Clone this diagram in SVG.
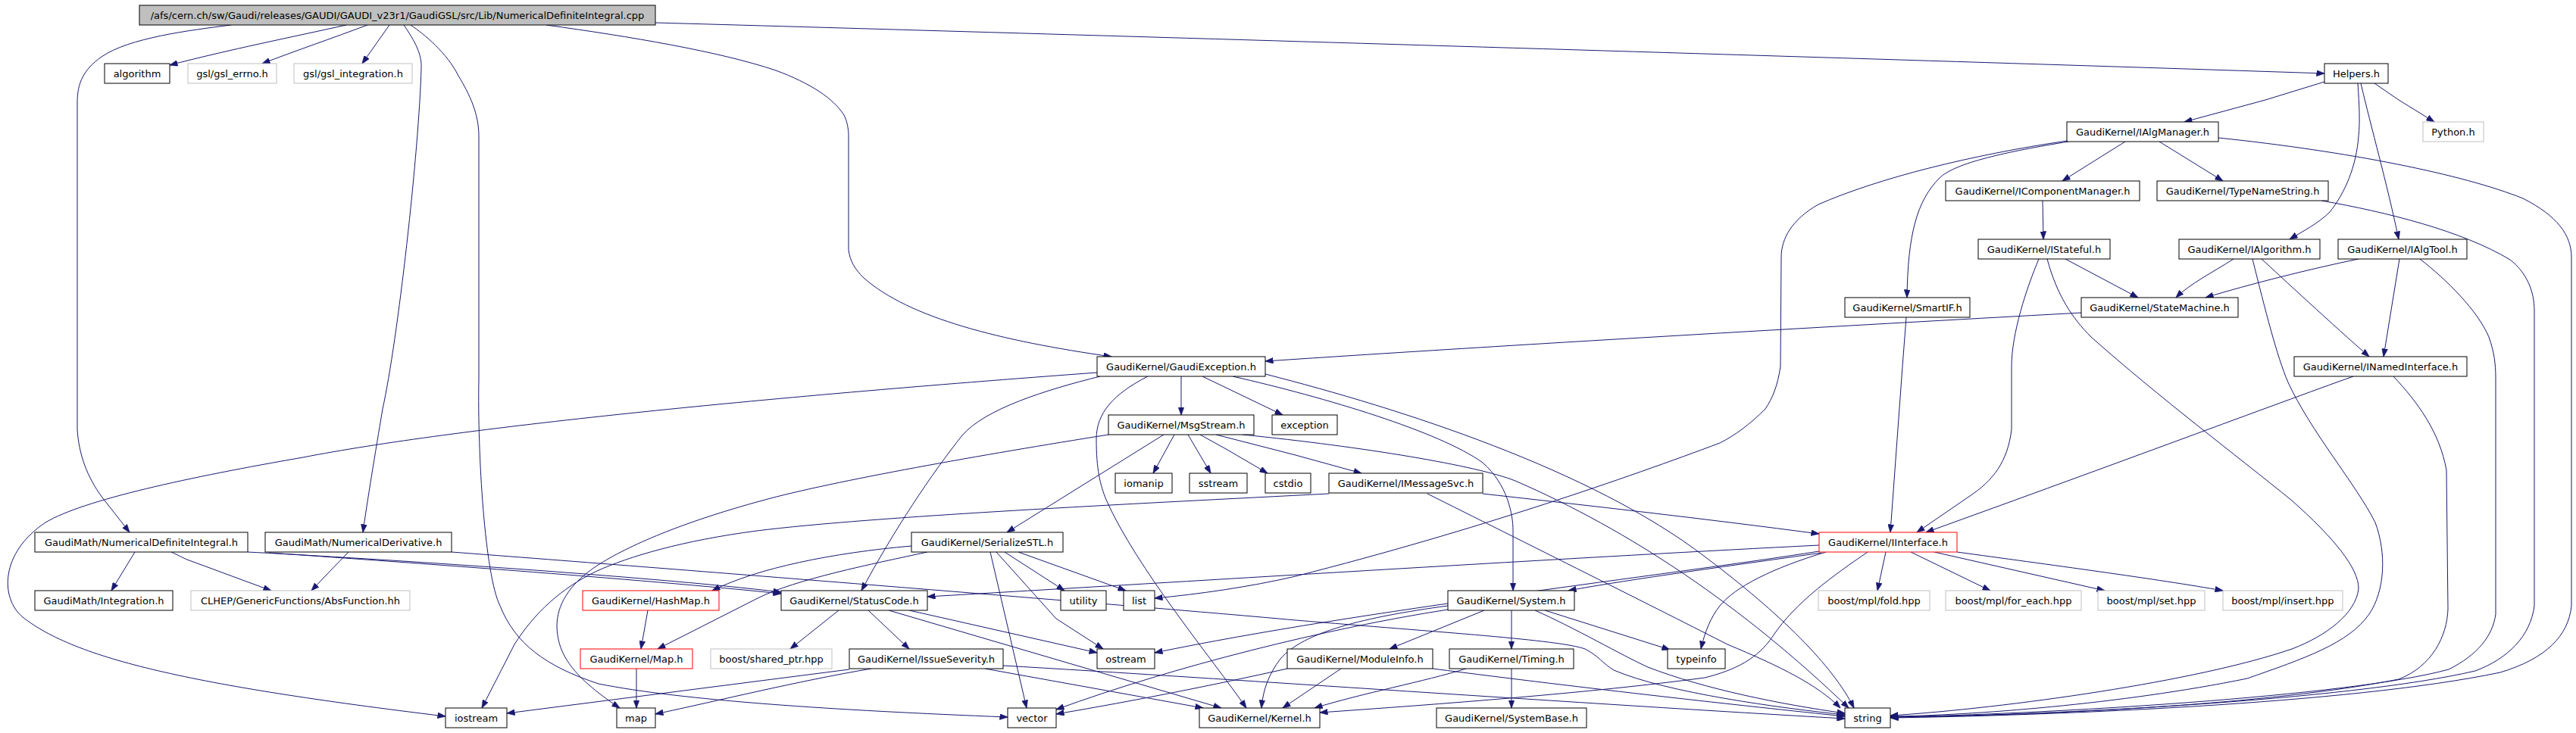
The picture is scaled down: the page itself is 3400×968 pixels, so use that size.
<svg xmlns="http://www.w3.org/2000/svg" width="3400" height="968" viewBox="0 0 3400 968">
<defs>
<style>
.node rect{fill:#ffffff;stroke:#000000;stroke-width:1}
.node.grey rect{stroke:#bfbfbf}
.node.red rect{stroke:#ff0000}
.node.root rect{fill:#bfbfbf}
.node text{font-family:"DejaVu Sans",sans-serif;font-size:13px;text-anchor:middle;fill:#000000}
.edges path{fill:none;stroke:#191970;stroke-width:1;marker-end:url(#arr)}
</style>
<marker id="arr" markerUnits="userSpaceOnUse" markerWidth="11" markerHeight="8" viewBox="0 0 11 8" refX="10.5" refY="4" orient="auto"><path d="M0,0 L11,4 L0,8 z" fill="#191970" stroke="#191970" stroke-width="0.5"/></marker>
</defs>
<rect x="0" y="0" width="3400" height="968" fill="#ffffff"/>
<g class="edges">
<path d="M457,33 C390,48 300,66 224,86"/>
<path d="M485,33 C440,50 390,67 346,84"/>
<path d="M514,33 C502,50 490,67 478,84"/>
<path d="M305,33 C250,40 170,50 134,75 C110,92 102,110 102,135 L102,567 C104,600 115,630 135,657 L171,703"/>
<path d="M533,33 C548,55 557,72 556,90 C553,200 525,450 505,540 C495,600 485,660 479,703"/>
<path d="M542,33 C560,45 590,70 605,100 C620,125 632,150 632,180 L632,500 C630,600 640,760 660,800 C680,850 720,880 790,903 C900,925 1100,938 1330,947"/>
<path d="M721,33 C830,48 950,68 1024,93 C1070,110 1100,130 1114,152 C1118,160 1120,170 1120,180 L1120,330 C1122,345 1128,355 1140,367 C1200,420 1320,450 1467,471"/>
<path d="M865,30 C1300,42 2500,78 3068,97"/>
<path d="M178,729 L147,780"/>
<path d="M226,729 C235,733 240,736 247,739 L358,780"/>
<path d="M460,729 L429,761 L411,780"/>
<path d="M327,729 C450,735 850,760 1031,782"/>
<path d="M355,730 C500,740 850,765 1031,784"/>
<path d="M596,729 C900,752 1500,800 1710,819 C1900,835 2060,845 2092,857 C2110,866 2115,876 2130,885 C2200,915 2350,935 2435,944"/>
<path d="M1559,497 L1559,548"/>
<path d="M1587,497 L1693,548"/>
<path d="M1448,492 C1000,525 600,565 400,604 C250,630 110,660 60,690 C0,730 0,790 30,815 C100,870 250,905 588,946"/>
<path d="M1452,497 C1380,515 1300,540 1270,575 C1230,625 1180,700 1137,780"/>
<path d="M1515,497 C1470,520 1447,545 1447,580 C1447,620 1452,640 1460,660 C1500,750 1600,870 1645,935"/>
<path d="M1670,494 C1850,540 2100,620 2250,735 C2350,810 2420,880 2447,935"/>
<path d="M1627,497 C1750,525 1900,570 1957,611 C1990,640 1997,680 1997,700 L1997,780"/>
<path d="M1536,574 L1329,703"/>
<path d="M1550,574 L1522,625"/>
<path d="M1568,574 L1598,625"/>
<path d="M1584,574 L1620,594 L1673,625"/>
<path d="M1605,574 L1710,601 L1797,625"/>
<path d="M1640,574 C1800,590 1950,615 2000,635 C2150,700 2300,800 2440,935"/>
<path d="M1463,574 C1300,600 1100,635 1006,661 C900,690 830,720 788,747 C750,772 735,800 735,827 C736,860 750,890 818,935"/>
<path d="M1754,652 C1500,665 1150,682 999,701 C900,714 830,735 788,754 C740,777 705,810 679,851 L636,935"/>
<path d="M1957,652 C2100,668 2250,685 2401,705"/>
<path d="M1884,652 C2000,710 2200,810 2280,851 C2350,880 2400,905 2429,935"/>
<path d="M1203,721 C1100,730 1000,750 940,780"/>
<path d="M1224,729 C1150,745 1050,765 1000,790 L868,857"/>
<path d="M1307,729 L1355,935"/>
<path d="M1315,729 L1394,817 L1456,857"/>
<path d="M1326,729 L1405,780"/>
<path d="M1344,729 L1486,780"/>
<path d="M855,806 L846,857"/>
<path d="M840,883 L840,935"/>
<path d="M1107,806 L1043,857"/>
<path d="M1146,806 L1200,857"/>
<path d="M1200,806 L1448,862"/>
<path d="M1173,806 L1612,935"/>
<path d="M1121,884 L669,942"/>
<path d="M1150,883 C1050,900 950,925 865,943"/>
<path d="M1300,883 L1588,935"/>
<path d="M1324,879 C1600,895 2100,930 2435,949"/>
<path d="M1959,806 L1834,857"/>
<path d="M1995,806 L1995,857"/>
<path d="M2039,806 L2204,858"/>
<path d="M2026,806 C2080,830 2140,865 2175,881 C2250,910 2350,930 2435,942"/>
<path d="M1911,800 C1800,815 1720,835 1690,870 C1675,890 1667,910 1665,935"/>
<path d="M1911,805 C1750,830 1550,880 1394,937"/>
<path d="M1770,883 L1693,935"/>
<path d="M1699,883 C1600,905 1500,925 1394,943"/>
<path d="M1891,883 C2100,910 2300,932 2435,946"/>
<path d="M1995,883 L1995,935"/>
<path d="M1935,883 C1880,900 1800,915 1735,935"/>
<path d="M2489,729 L2478,780"/>
<path d="M2522,729 L2627,780"/>
<path d="M2553,729 L2778,780"/>
<path d="M2583,729 C2700,745 2850,765 2934,780"/>
<path d="M2404,730 C2300,745 2150,765 2070,780"/>
<path d="M2401,720 C2100,735 1700,760 1224,788"/>
<path d="M2401,728 C2200,760 1800,805 1524,862"/>
<path d="M2410,729 C2340,750 2290,775 2270,800 C2258,815 2250,835 2245,857"/>
<path d="M2465,729 C2420,760 2370,795 2340,840 C2320,870 2290,885 2250,895 C2100,915 1900,930 1742,941"/>
<path d="M2728,186 C2600,205 2480,235 2400,270 C2365,290 2351,315 2351,340 L2350,484 C2346,510 2340,525 2330,540 C2310,560 2290,575 2270,585 C2150,630 1950,700 1710,761 C1650,775 1580,785 1524,790"/>
<path d="M2730,187 C2650,200 2580,215 2560,235 C2530,265 2518,310 2517,393"/>
<path d="M2805,187 L2722,239"/>
<path d="M2850,187 L2934,239"/>
<path d="M2928,182 C3100,200 3250,230 3330,262 C3375,285 3394,310 3394,340 L3394,800 C3390,840 3360,870 3300,888 C3100,930 2700,945 2495,948"/>
<path d="M3068,108 L2990,132 L2883,161"/>
<path d="M3134,110 L3166,132 L3213,161"/>
<path d="M3112,110 C3114,140 3115,160 3113,180 C3110,220 3095,255 3075,280 C3060,295 3040,305 3022,316"/>
<path d="M3116,110 C3130,170 3150,240 3166,316"/>
<path d="M2696,265 L2697,316"/>
<path d="M2726,342 L2822,393"/>
<path d="M2691,342 C2675,380 2655,440 2655,484 L2655,567 C2650,610 2630,635 2600,655 L2530,703"/>
<path d="M2702,342 C2715,390 2735,420 2760,445 C2850,525 2950,600 3025,661 C3080,710 3113,750 3113,777 C3110,810 3070,840 3025,857 C2900,900 2650,935 2495,945"/>
<path d="M2948,342 C2920,360 2890,375 2872,393"/>
<path d="M2985,342 C3010,365 3080,430 3127,471"/>
<path d="M2973,342 C2990,410 3005,470 3020,505 C3050,570 3110,640 3135,690 C3150,730 3148,780 3127,811 C3100,850 3040,870 2966,896 C2800,930 2600,945 2495,946"/>
<path d="M3113,342 C3050,355 2970,375 2911,393"/>
<path d="M3167,342 L3146,471"/>
<path d="M3194,342 C3230,370 3270,410 3285,445 C3292,465 3294,480 3294,500 L3294,811 C3290,840 3270,865 3232,884 C3100,920 2700,943 2495,947"/>
<path d="M3064,265 C3150,280 3250,305 3313,343 C3335,360 3345,385 3345,410 L3345,800 C3340,840 3310,870 3267,886 C3100,925 2700,945 2495,947"/>
<path d="M3106,497 C3000,535 2800,610 2542,703"/>
<path d="M3159,497 C3190,530 3220,570 3229,621 L3231,804 C3230,840 3210,880 3166,897 C3000,930 2700,945 2495,947"/>
<path d="M2516,419 L2511,484 L2495,703"/>
<path d="M2747,413 C2400,432 2000,455 1670,477"/>
</g>
<g id="n_root" class="node root"><rect x="184" y="7" width="681" height="26"/><text x="524.5" y="25">/afs/cern.ch/sw/Gaudi/releases/GAUDI/GAUDI_v23r1/GaudiGSL/src/Lib/NumericalDefiniteIntegral.cpp</text></g>
<g id="n_algorithm" class="node"><rect x="138" y="84" width="86" height="26"/><text x="181" y="102">algorithm</text></g>
<g id="n_gsl_errno" class="node grey"><rect x="248" y="84" width="117" height="26"/><text x="306.5" y="102">gsl/gsl_errno.h</text></g>
<g id="n_gsl_integration" class="node grey"><rect x="388" y="84" width="156" height="26"/><text x="466" y="102">gsl/gsl_integration.h</text></g>
<g id="n_helpers" class="node"><rect x="3068" y="84" width="84" height="26"/><text x="3110" y="102">Helpers.h</text></g>
<g id="n_ialgmanager" class="node"><rect x="2728" y="161" width="200" height="26"/><text x="2828" y="179">GaudiKernel/IAlgManager.h</text></g>
<g id="n_python" class="node grey"><rect x="3198" y="161" width="80" height="26"/><text x="3238" y="179">Python.h</text></g>
<g id="n_icomponentmanager" class="node"><rect x="2568" y="239" width="256" height="26"/><text x="2696" y="257">GaudiKernel/IComponentManager.h</text></g>
<g id="n_typenamestring" class="node"><rect x="2847" y="239" width="226" height="26"/><text x="2960" y="257">GaudiKernel/TypeNameString.h</text></g>
<g id="n_istateful" class="node"><rect x="2611" y="316" width="174" height="26"/><text x="2698" y="334">GaudiKernel/IStateful.h</text></g>
<g id="n_ialgorithm" class="node"><rect x="2876" y="316" width="186" height="26"/><text x="2969" y="334">GaudiKernel/IAlgorithm.h</text></g>
<g id="n_ialgtool" class="node"><rect x="3086" y="316" width="170" height="26"/><text x="3171" y="334">GaudiKernel/IAlgTool.h</text></g>
<g id="n_smartif" class="node"><rect x="2435" y="393" width="165" height="26"/><text x="2517.5" y="411">GaudiKernel/SmartIF.h</text></g>
<g id="n_statemachine" class="node"><rect x="2747" y="393" width="207" height="26"/><text x="2850.5" y="411">GaudiKernel/StateMachine.h</text></g>
<g id="n_gaudiexception" class="node"><rect x="1448" y="471" width="222" height="26"/><text x="1559" y="489">GaudiKernel/GaudiException.h</text></g>
<g id="n_inamedinterface" class="node"><rect x="3028" y="471" width="228" height="26"/><text x="3142" y="489">GaudiKernel/INamedInterface.h</text></g>
<g id="n_msgstream" class="node"><rect x="1463" y="548" width="192" height="26"/><text x="1559" y="566">GaudiKernel/MsgStream.h</text></g>
<g id="n_exception" class="node"><rect x="1679" y="548" width="86" height="26"/><text x="1722" y="566">exception</text></g>
<g id="n_iomanip" class="node"><rect x="1472" y="625" width="75" height="26"/><text x="1509.5" y="643">iomanip</text></g>
<g id="n_sstream" class="node"><rect x="1570" y="625" width="76" height="26"/><text x="1608" y="643">sstream</text></g>
<g id="n_cstdio" class="node"><rect x="1670" y="625" width="60" height="26"/><text x="1700" y="643">cstdio</text></g>
<g id="n_imessagesvc" class="node"><rect x="1754" y="625" width="203" height="26"/><text x="1855.5" y="643">GaudiKernel/IMessageSvc.h</text></g>
<g id="n_ndi" class="node"><rect x="46" y="703" width="281" height="26"/><text x="186.5" y="721">GaudiMath/NumericalDefiniteIntegral.h</text></g>
<g id="n_numderiv" class="node"><rect x="350" y="703" width="246" height="26"/><text x="473" y="721">GaudiMath/NumericalDerivative.h</text></g>
<g id="n_serializestl" class="node"><rect x="1203" y="703" width="200" height="26"/><text x="1303" y="721">GaudiKernel/SerializeSTL.h</text></g>
<g id="n_iinterface" class="node red"><rect x="2401" y="703" width="182" height="26"/><text x="2492" y="721">GaudiKernel/IInterface.h</text></g>
<g id="n_integration" class="node"><rect x="46" y="780" width="182" height="26"/><text x="137" y="798">GaudiMath/Integration.h</text></g>
<g id="n_absfunction" class="node grey"><rect x="252" y="780" width="289" height="26"/><text x="396.5" y="798">CLHEP/GenericFunctions/AbsFunction.hh</text></g>
<g id="n_hashmap" class="node red"><rect x="769" y="780" width="180" height="26"/><text x="859" y="798">GaudiKernel/HashMap.h</text></g>
<g id="n_statuscode" class="node"><rect x="1031" y="780" width="193" height="26"/><text x="1127.5" y="798">GaudiKernel/StatusCode.h</text></g>
<g id="n_utility" class="node"><rect x="1400" y="780" width="60" height="26"/><text x="1430" y="798">utility</text></g>
<g id="n_list" class="node"><rect x="1483" y="780" width="41" height="26"/><text x="1503.5" y="798">list</text></g>
<g id="n_system" class="node"><rect x="1911" y="780" width="167" height="26"/><text x="1994.5" y="798">GaudiKernel/System.h</text></g>
<g id="n_fold" class="node grey"><rect x="2400" y="780" width="147" height="26"/><text x="2473.5" y="798">boost/mpl/fold.hpp</text></g>
<g id="n_foreach" class="node grey"><rect x="2568" y="780" width="179" height="26"/><text x="2657.5" y="798">boost/mpl/for_each.hpp</text></g>
<g id="n_set" class="node grey"><rect x="2769" y="780" width="141" height="26"/><text x="2839.5" y="798">boost/mpl/set.hpp</text></g>
<g id="n_insert" class="node grey"><rect x="2934" y="780" width="158" height="26"/><text x="3013" y="798">boost/mpl/insert.hpp</text></g>
<g id="n_maph" class="node red"><rect x="766" y="857" width="148" height="26"/><text x="840" y="875">GaudiKernel/Map.h</text></g>
<g id="n_sharedptr" class="node grey"><rect x="938" y="857" width="160" height="26"/><text x="1018" y="875">boost/shared_ptr.hpp</text></g>
<g id="n_issueseverity" class="node"><rect x="1121" y="857" width="203" height="26"/><text x="1222.5" y="875">GaudiKernel/IssueSeverity.h</text></g>
<g id="n_ostream" class="node"><rect x="1448" y="857" width="76" height="26"/><text x="1486" y="875">ostream</text></g>
<g id="n_moduleinfo" class="node"><rect x="1699" y="857" width="192" height="26"/><text x="1795" y="875">GaudiKernel/ModuleInfo.h</text></g>
<g id="n_timing" class="node"><rect x="1913" y="857" width="164" height="26"/><text x="1995" y="875">GaudiKernel/Timing.h</text></g>
<g id="n_typeinfo" class="node"><rect x="2201" y="857" width="76" height="26"/><text x="2239" y="875">typeinfo</text></g>
<g id="n_iostream" class="node"><rect x="588" y="935" width="81" height="26"/><text x="628.5" y="953">iostream</text></g>
<g id="n_map" class="node"><rect x="814" y="935" width="51" height="26"/><text x="839.5" y="953">map</text></g>
<g id="n_vector" class="node"><rect x="1330" y="935" width="64" height="26"/><text x="1362" y="953">vector</text></g>
<g id="n_kernel" class="node"><rect x="1583" y="935" width="159" height="26"/><text x="1662.5" y="953">GaudiKernel/Kernel.h</text></g>
<g id="n_systembase" class="node"><rect x="1896" y="935" width="198" height="26"/><text x="1995" y="953">GaudiKernel/SystemBase.h</text></g>
<g id="n_string" class="node"><rect x="2435" y="935" width="60" height="26"/><text x="2465" y="953">string</text></g>
</svg>
